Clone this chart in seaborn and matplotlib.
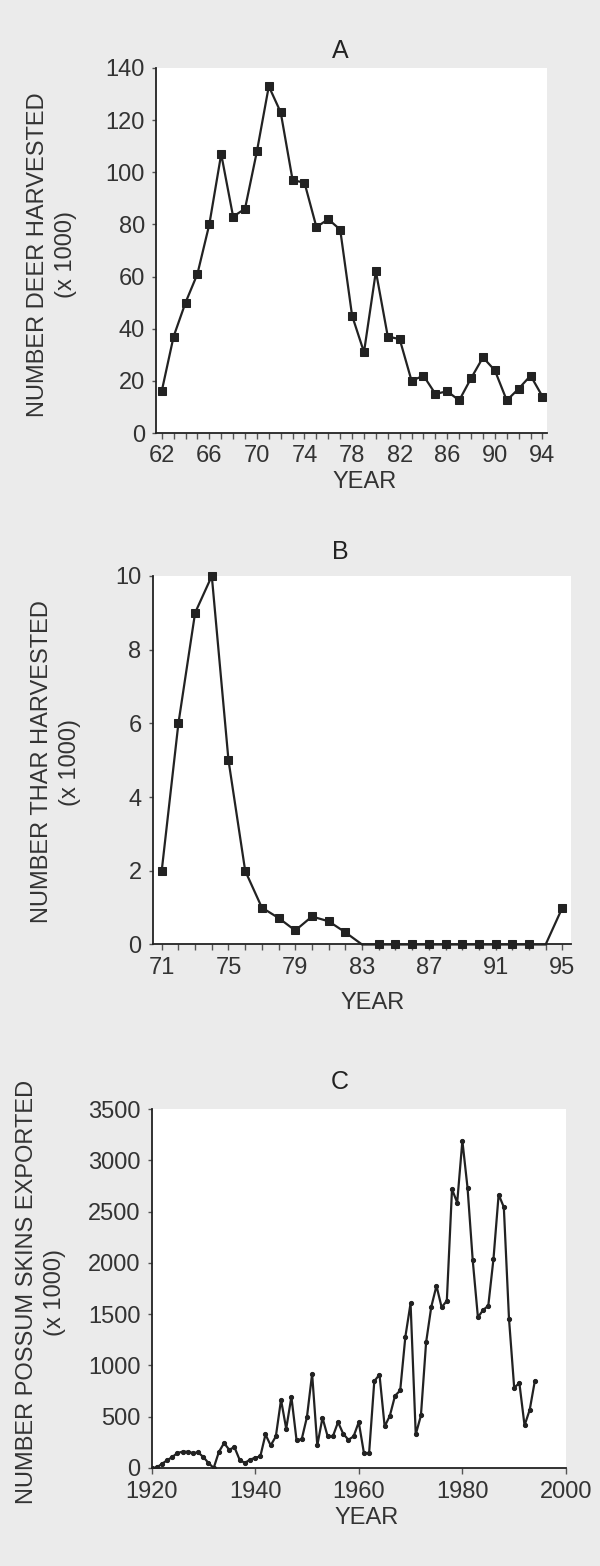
import numpy as np
import pandas as pd
import matplotlib.pyplot as plt
from matplotlib.ticker import MultipleLocator
import seaborn as sns

# A: deer harvested (x 1000), 1962-1994
deer_years = list(range(62, 95))
deer_vals = [16, 37, 50, 61, 80, 107, 83, 86, 108, 133, 123, 97, 96, 79, 82, 78,
             45, 31, 62, 37, 36, 20, 22, 15, 16, 12.5, 21, 29, 24, 12.5, 17, 22, 14]
deer_ticks = [62, 66, 70, 74, 78, 82, 86, 90, 94]

# B: thar harvested (x 1000), 1971-1995
thar_years = list(range(71, 96))
thar_vals = [2, 6, 9, 10, 5, 2, 1, 0.72, 0.38, 0.76, 0.63, 0.33,
             0, 0, 0, 0, 0, 0, 0, 0, 0, 0, 0, 0, 1.0]
thar_ticks = [71, 75, 79, 83, 87, 91, 95]

# C: possum skins exported (x 1000), 1920-1994
possum_years = list(range(1920, 1995))
possum_vals = [0, 5, 40, 75, 107, 146, 159, 159, 146, 152,
               107, 49, 0, 156, 243, 178, 204, 81, 49, 81,
               100, 113, 327, 220, 308, 665, 383, 694, 269, 282,
               496, 918, 220, 490, 308, 308, 447, 334, 275, 308,
               447, 146, 146, 846, 911, 405, 509, 704, 756, 1281,
               1605, 327, 512, 1225, 1572, 1776, 1566, 1631, 2718, 2588,
               3190, 2730, 2024, 1469, 1540, 1582, 2037, 2666, 2543, 1453,
               783, 828, 415, 568, 853]
possum_ticks = [1920, 1940, 1960, 1980, 2000]

sns.set_style('ticks')
plt.rcParams['font.family'] = ['Liberation Sans', 'DejaVu Sans']
plt.rcParams['font.size'] = 17

ink = '#222222'
bg = '#ebebeb'

fig = plt.figure(figsize=(6, 15.66), dpi=100)
fig.patch.set_facecolor(bg)
W, H = 600, 1566


def make_ax(l, t, r, b):
    return fig.add_axes([l / W, 1 - b / H, (r - l) / W, (b - t) / H])


def style(ax):
    sns.despine(ax=ax)
    ax.set_facecolor('white')
    for s in ['left', 'bottom']:
        ax.spines[s].set_color(ink)
        ax.spines[s].set_linewidth(1.3)
    ax.tick_params(axis='both', which='both', direction='out', color='#555555',
                   labelcolor='#333333', labelsize=17, width=1)
    ax.tick_params(axis='y', length=3, pad=5)
    ax.tick_params(axis='x', which='major', length=4, pad=5)
    ax.tick_params(axis='x', which='minor', length=4)
    ax.set_xlabel('')
    ax.set_ylabel('')


# panel A
ax1 = make_ax(156, 68, 547, 433)
sns.lineplot(x=deer_years, y=deer_vals, ax=ax1, color=ink, lw=1.6,
             marker='s', markersize=5.5, markeredgecolor=ink)
ax1.set_xlim(61.52, 94.38)
ax1.set_ylim(0, 140)
ax1.set_xticks(deer_ticks)
ax1.xaxis.set_minor_locator(MultipleLocator(1))
ax1.yaxis.set_major_locator(MultipleLocator(20))
style(ax1)

# panel B
ax2 = make_ax(152.7, 576, 570.7, 944.5)
shown = [i for i, y in enumerate(thar_years) if y not in (83, 94)]
sns.lineplot(x=thar_years, y=thar_vals, ax=ax2, color=ink, lw=1.6,
             marker='s', markersize=5.5, markeredgecolor=ink, markevery=shown,
             clip_on=False)
ax2.set_xlim(70.46, 95.5)
ax2.set_ylim(0, 10)
ax2.set_xticks(thar_ticks)
ax2.xaxis.set_minor_locator(MultipleLocator(1))
ax2.yaxis.set_major_locator(MultipleLocator(2))
style(ax2)

# panel C
ax3 = make_ax(151.5, 1109, 566, 1468)
sns.lineplot(x=possum_years, y=possum_vals, ax=ax3, color=ink, lw=1.6,
             marker='o', markersize=3, markeredgecolor=ink)
ax3.set_xlim(1920, 2000)
ax3.set_ylim(0, 3500)
ax3.set_xticks(possum_ticks)
ax3.yaxis.set_major_locator(MultipleLocator(500))
style(ax3)

# titles, axis labels
for x, y, s in [(340, 51, 'A'), (340, 552, 'B'), (340, 1082, 'C')]:
    fig.text(x / W, 1 - y / H, s, ha='center', va='center', fontsize=18, color='#222222')
for x, y in [(365, 482), (373, 1003), (367, 1518)]:
    fig.text(x / W, 1 - y / H, 'YEAR', ha='center', va='center', fontsize=17, color='#333333')

ylabels = [(52, 255, 'NUMBER DEER HARVESTED\n(x 1000)'),
           (56, 762, 'NUMBER THAR HARVESTED\n(x 1000)'),
           (41, 1292, 'NUMBER POSSUM SKINS EXPORTED\n(x 1000)')]
for x, y, s in ylabels:
    fig.text(x / W, 1 - y / H, s, rotation=90, ha='center', va='center',
             multialignment='center', linespacing=1.4, fontsize=17, color='#333333')

fig.savefig('out.png', dpi=100, facecolor=bg)
